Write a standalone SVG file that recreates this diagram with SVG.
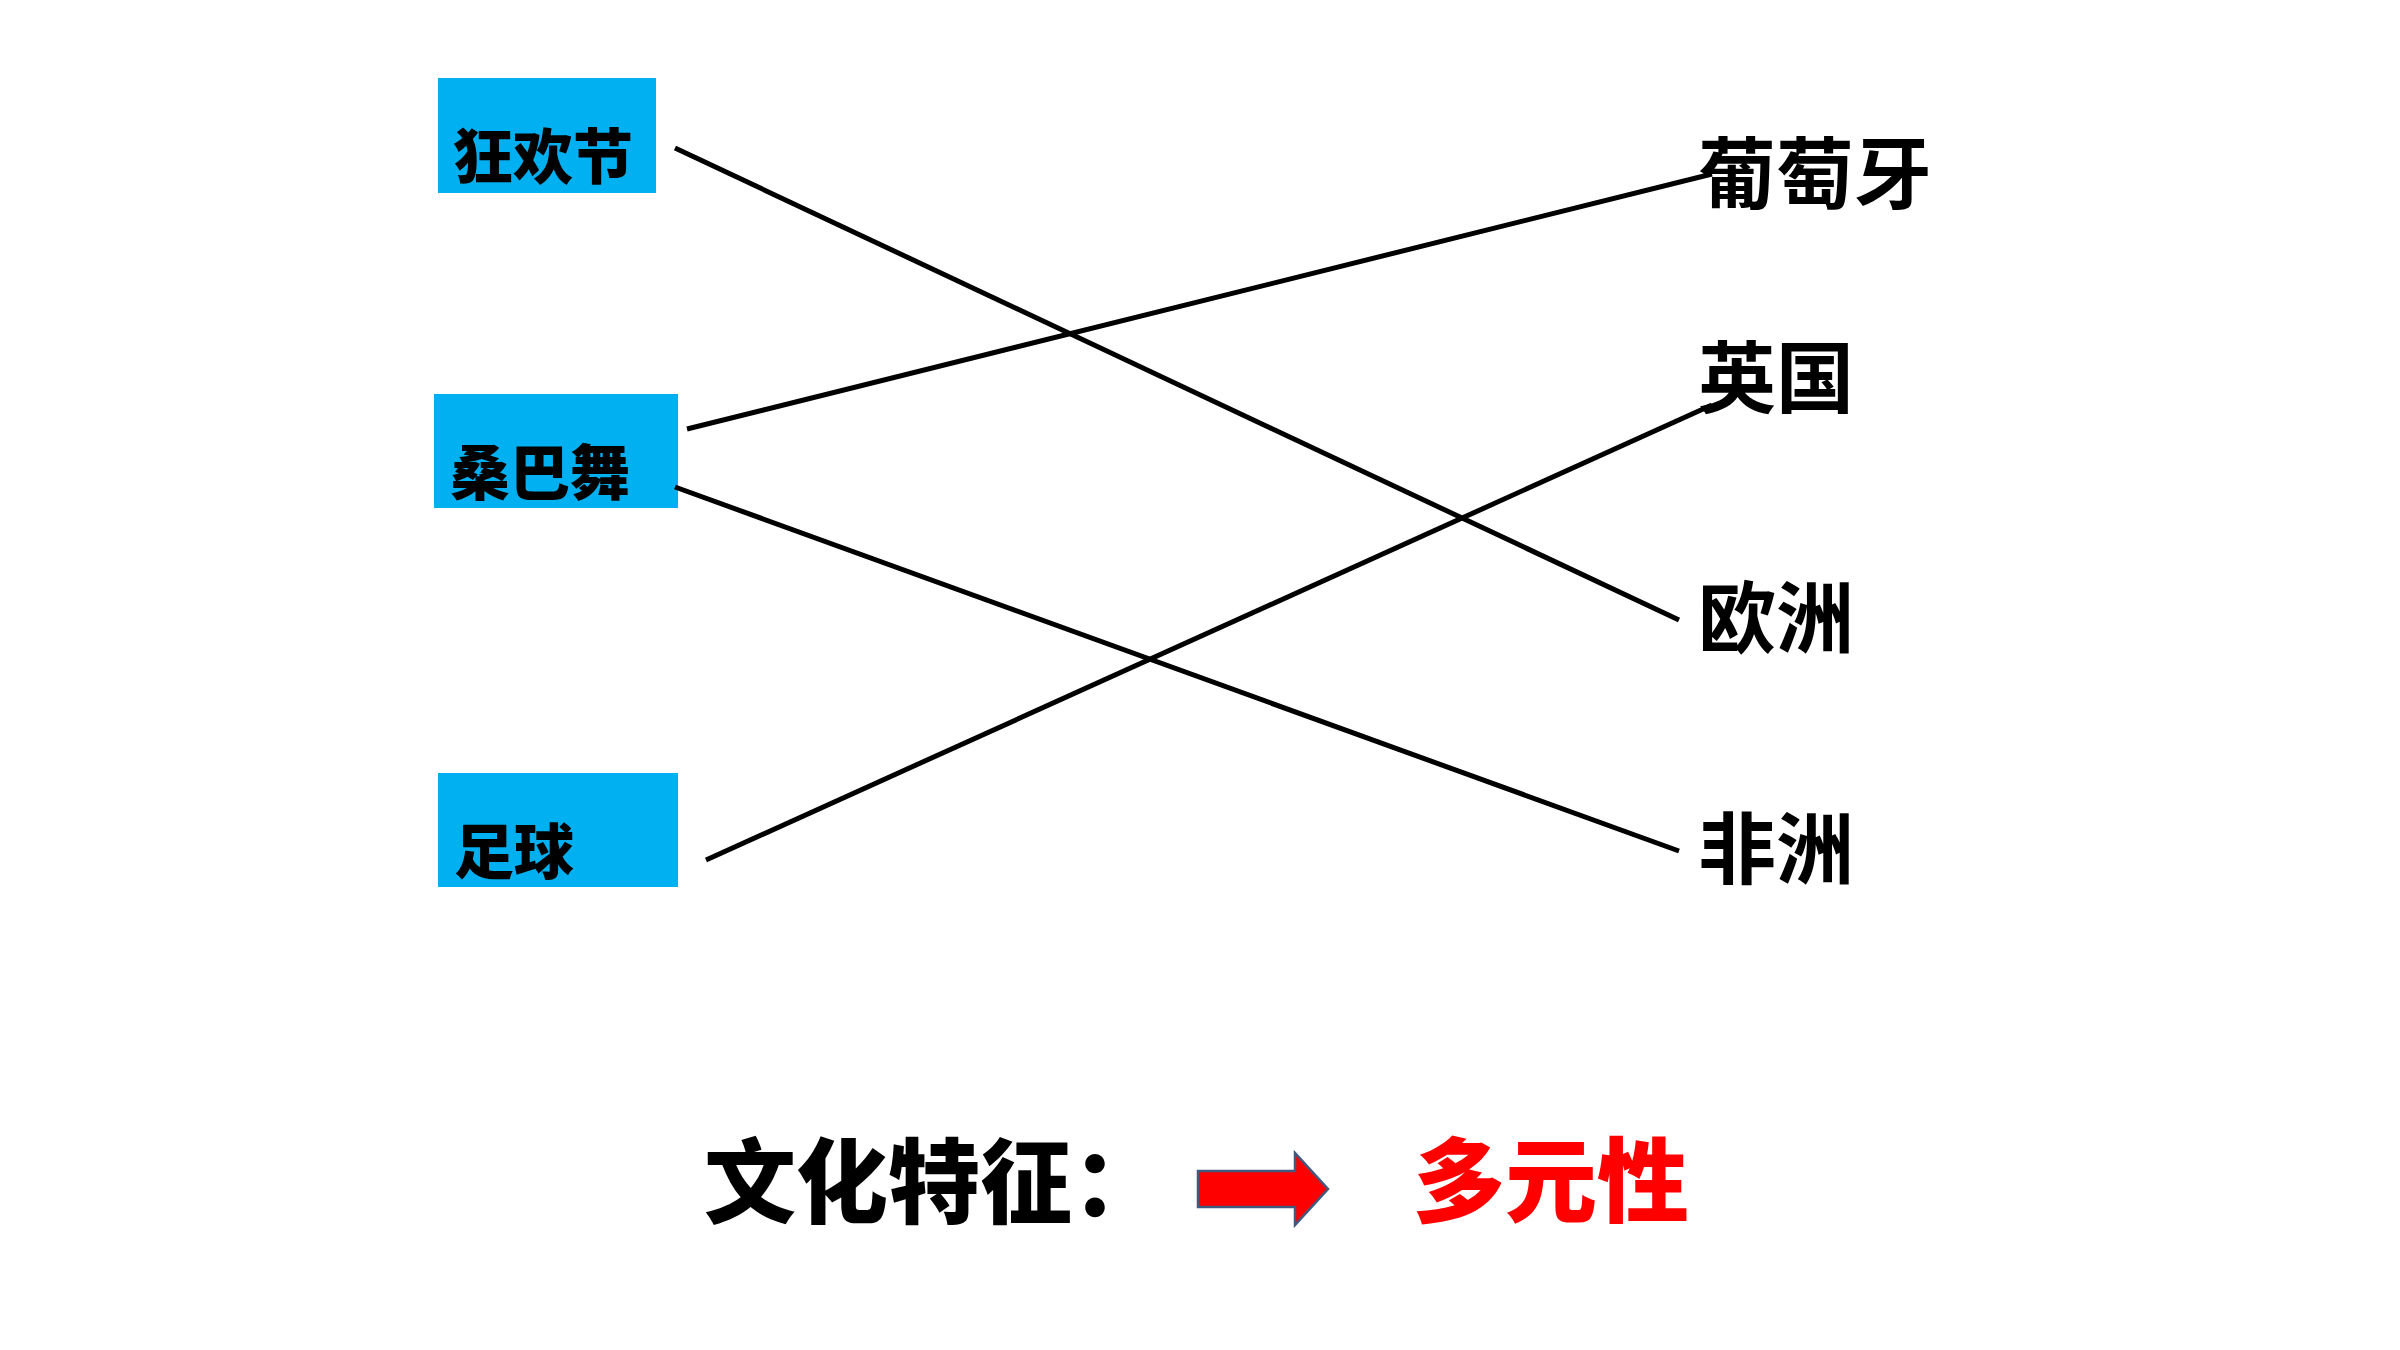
<svg xmlns="http://www.w3.org/2000/svg" width="2400" height="1350" viewBox="0 0 2400 1350">
  <style>
    .box { fill: #00B0F0; }
    .boxtxt { font-family: "Noto Sans CJK SC", "Noto Sans", sans-serif; font-weight: 900; font-size: 60px; fill: #000; }
    .lbl { font-family: "Noto Sans CJK SC", "Noto Sans", sans-serif; font-weight: 700; font-size: 78px; fill: #000; }
    .big { font-family: "Noto Sans CJK SC", "Noto Sans", sans-serif; font-weight: 900; font-size: 92px; }
    .link { stroke: #000; stroke-width: 5; fill: none; }
  </style>
  <rect width="2400" height="1350" fill="#fff"/>

  <!-- left items -->
  <g id="node-carnival">
    <rect class="box" x="438" y="78" width="218" height="115"/>
    <text class="boxtxt" x="453" y="179">狂欢节</text>
  </g>
  <g id="node-samba">
    <rect class="box" x="434" y="394" width="244" height="114"/>
    <text class="boxtxt" x="450" y="495">桑巴舞</text>
  </g>
  <g id="node-football">
    <rect class="box" x="438" y="773" width="240" height="114"/>
    <text class="boxtxt" x="454" y="874">足球</text>
  </g>

  <!-- right items -->
  <g id="node-portugal"><text class="lbl" x="1698" y="203">葡萄牙</text></g>
  <g id="node-britain"><text class="lbl" x="1698" y="407">英国</text></g>
  <g id="node-europe"><text class="lbl" x="1698" y="647">欧洲</text></g>
  <g id="node-africa"><text class="lbl" x="1698" y="878">非洲</text></g>

  <!-- matching lines -->
  <g id="connectors">
    <line class="link" x1="675" y1="148" x2="1679" y2="620"/>
    <line class="link" x1="687" y1="429" x2="1712" y2="174"/>
    <line class="link" x1="675" y1="487" x2="1679" y2="851"/>
    <line class="link" x1="706" y1="860" x2="1712" y2="405"/>
  </g>

  <!-- conclusion -->
  <g id="conclusion">
    <text class="big" x="704" y="1216" fill="#000">文化特征：</text>
    <path d="M1198,1171 H1295 V1153 L1328,1189 L1295,1225 V1207 H1198 Z" fill="#FF0000" stroke="#41597F" stroke-width="2.5" stroke-linejoin="miter"/>
    <text class="big" x="1413" y="1215" fill="#FF0000" font-size="95">多元性</text>
  </g>
</svg>
